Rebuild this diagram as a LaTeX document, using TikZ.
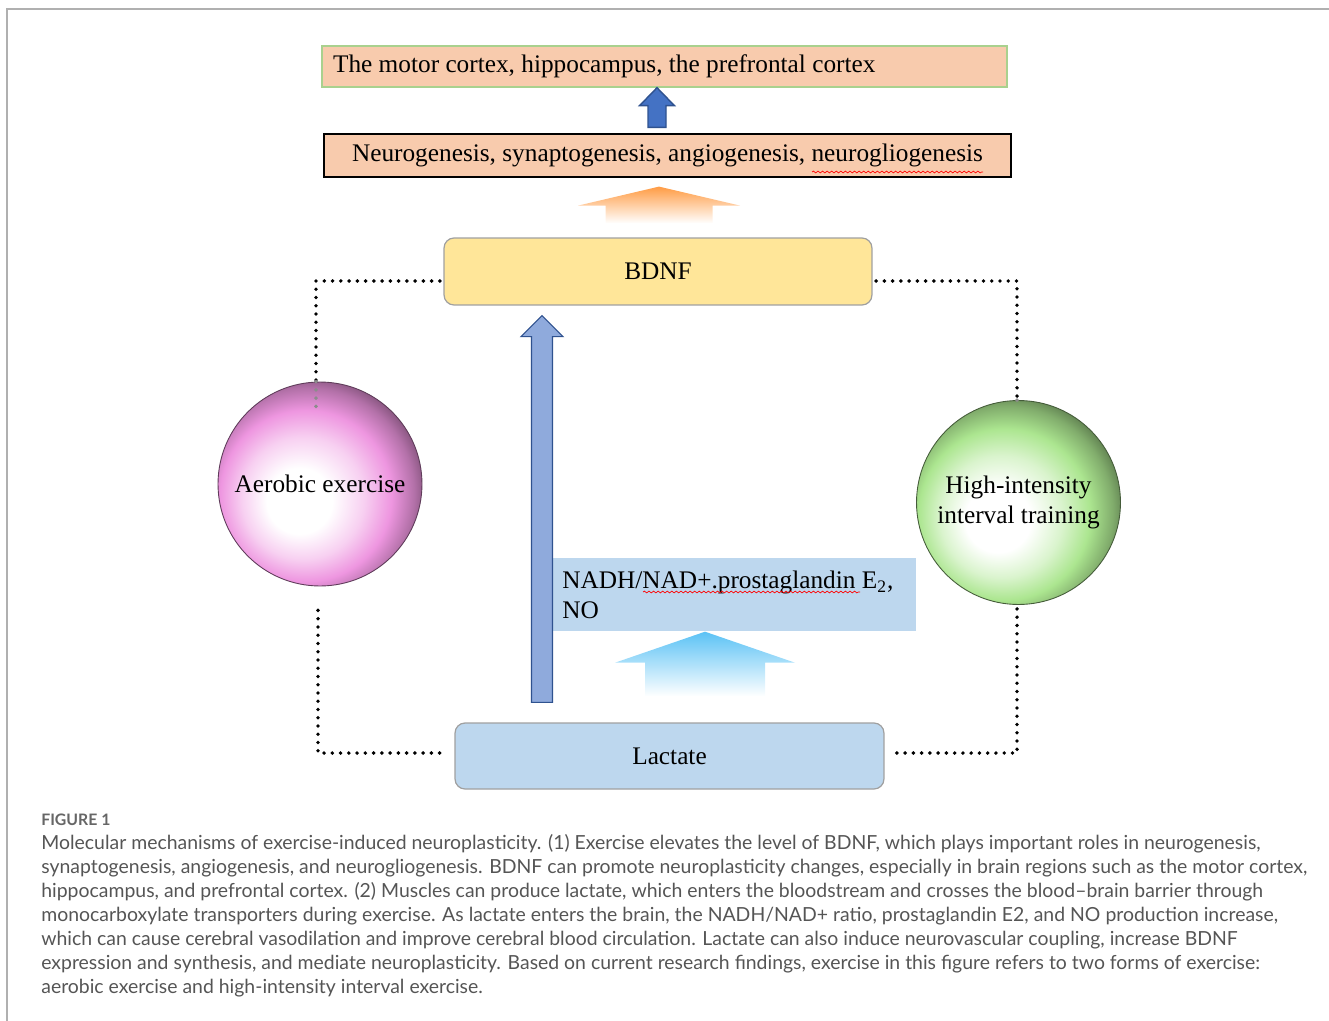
\documentclass[tikz,border=0pt]{standalone}
\usepackage{fontspec}
\setmainfont{Liberation Serif}
\newfontfamily\capfont{Lato}
\usetikzlibrary{positioning,calc,decorations.pathmorphing}

\definecolor{peach}{HTML}{F8CBAD}
\definecolor{boxgreen}{HTML}{A9D18E}
\definecolor{bdnfyellow}{HTML}{FFE699}
\definecolor{lactblue}{HTML}{BDD7EE}
\definecolor{boxgray}{HTML}{A0A0A0}
\definecolor{arrblue}{HTML}{4472C4}
\definecolor{arrblueline}{HTML}{2F528F}
\definecolor{bigblue}{HTML}{8FAADC}
\definecolor{arrorange}{HTML}{FF9C45}
\definecolor{arrcyan}{HTML}{5BC2F5}
\definecolor{ballpink}{HTML}{EE96E0}
\definecolor{ballgreen}{HTML}{ACE690}
\definecolor{capgray}{HTML}{555555}
\definecolor{framegray}{HTML}{B0B0B0}

\pgfdeclareradialshading{pinkball}{\pgfpoint{-6bp}{-5bp}}{color(0bp)=(white); color(8bp)=(white); color(15bp)=(ballpink!45!white); color(21bp)=(ballpink); color(26bp)=(ballpink!75!black); color(31bp)=(ballpink!40!black); color(50bp)=(ballpink!40!black)}
\pgfdeclareradialshading{greenball}{\pgfpoint{-6bp}{-5bp}}{color(0bp)=(white); color(8bp)=(white); color(15bp)=(ballgreen!45!white); color(21bp)=(ballgreen); color(26bp)=(ballgreen!75!black); color(31bp)=(ballgreen!40!black); color(50bp)=(ballgreen!40!black)}

% block arrow: style, base, tip, shaft half width, head half width, head length
\newcommand{\blockarrow}[6]{%
  \path[#1] ($(#2)+(-#4,0)$) -- ($(#2 |- #3)+(-#4,#6)$) -- ($(#2 |- #3)+(-#5,#6)$)
    -- (#2 |- #3) -- ($(#2 |- #3)+(#5,#6)$) -- ($(#2 |- #3)+(#4,#6)$) -- ($(#2)+(#4,0)$) -- cycle;}

\begin{document}
\begin{tikzpicture}
    [x=0.02cm,y=-0.02cm,
    txt/.style = {font=\fontsize{14.4}{17.3}\selectfont},
    cortexbox/.style = {txt,fill=peach,draw=boxgreen,line width=0.8pt,text width=13.26cm,align=flush left,inner xsep=0.22cm,inner ysep=0pt,minimum height=0.82cm},
    genesisbox/.style = {txt,fill=peach,draw=black,line width=0.7pt,minimum width=13.74cm,minimum height=0.86cm,inner sep=0pt},
    roundbox/.style = {txt,draw=boxgray,line width=0.7pt,rounded corners=0.2cm,minimum width=8.56cm,minimum height=1.34cm},
    nadhbox/.style = {txt,fill=lactblue,text width=6.88cm,align=flush left,inner xsep=0.2cm,minimum height=1.46cm},
    ball/.style = {txt,circle,minimum size=4.08cm,inner sep=0pt,align=center,line width=0.5pt},
    dotline/.style = {line width=2.2pt,dash pattern=on 0pt off 4.7pt,line cap=round},
    faintdots/.style = {dotline,black!45},
    bluearrow/.style = {fill=arrblue,draw=arrblueline,line width=0.8pt},
    bigarrow/.style = {fill=bigblue,draw=arrblueline,line width=0.6pt},
    orangearrow/.style = {top color=arrorange,bottom color=white},
    cyanarrow/.style = {top color=arrcyan,bottom color=white},
    spell/.style = {red,line width=0.4pt,decorate,decoration={snake,amplitude=0.5pt,segment length=2.6pt}}
    ]
\useasboundingbox (0,0) rectangle (1329,1021);
\draw[framegray,line width=1.1pt] (7,1021) -- (7,9) -- (1329,9);

% boxes
\node[cortexbox] (cortex) at (664.5,66.5) {The motor cortex, hippocampus, the prefrontal cortex};
\node[genesisbox] (genesis) at (667.5,155.5) {Neurogenesis, synaptogenesis, angiogenesis, neurogliogenesis};
\node[roundbox,fill=bdnfyellow] (bdnf) at (658,271.5) {BDNF};
\node[roundbox,fill=lactblue,minimum width=8.58cm,minimum height=1.32cm] (lactate) at (669.5,756) {Lactate};
\node[nadhbox,anchor=north west] (nadh) at (552,558) {NADH/NAD+.prostaglandin E\textsubscript{2},\\NO};

\draw[spell] (812,172) -- (983,172);
\draw[spell] (643,592) -- (860,592);

% dotted links
\node[ball,shading=pinkball,draw=ballpink!40!black] (aerobic) at (320,484) {Aerobic exercise};
\node[ball,shading=greenball,draw=ballgreen!40!black] (hiit) at (1018.5,502.5) {High-intensity\\interval training};
\coordinate (aertop) at ($(aerobic.north)+(-4,30)$);
\coordinate (aerbot) at ($(aerobic.south)+(-2,24)$);
\coordinate (hiittop) at ($(hiit.north)+(-1.5,7)$);
\coordinate (hiitbot) at ($(hiit.south)+(-1.5,4)$);
\draw[dotline] ([xshift=-2pt,yshift=-5.4pt]bdnf.west) -| (aerobic.north -| aertop);
\draw[faintdots] (aerobic.north -| aertop) -- (aertop);
\draw[dotline] ([xshift=2pt,yshift=-5.4pt]bdnf.east) -| (hiit.north -| hiittop);
\draw[faintdots] (hiit.north -| hiittop) -- (hiittop);
\draw[dotline] (aerbot) |- ([xshift=-5.7pt,yshift=1.7pt]lactate.west);
\draw[dotline] (hiitbot) |- ([xshift=3pt,yshift=1.7pt]lactate.east);

% block arrows
\coordinate (sbase) at ($(genesis.north)+(-10.5,-6)$);
\blockarrow{bluearrow}{sbase}{cortex.south}{9}{17.5}{18}
\coordinate (obase) at ($(bdnf.north)+(1,-14)$);
\coordinate (otip) at ($(genesis.south)+(0,9)$);
\blockarrow{orangearrow}{obase}{otip}{53.5}{81}{19}
\coordinate (bbase) at ($(lactate.north)+(-127.5,-20)$);
\coordinate (btip) at ($(bdnf.south)+(0,10)$);
\blockarrow{bigarrow}{bbase}{btip}{10.5}{21}{21}
\coordinate (cbase) at ($(lactate.north)+(35.5,-26)$);
\blockarrow{cyanarrow}{cbase}{nadh.south}{60}{90}{31}

% caption
\node[anchor=north west,inner sep=0pt,text=capgray!90,font=\capfont\bfseries\fontsize{9}{11}\selectfont] (figlabel) at (41,814) {FIGURE 1};
\node[anchor=north west,inner sep=0pt,text=capgray,align=flush left,font=\capfont\fontsize{11.05}{13.65}\selectfont] (caption) at (41,834) {Molecular mechanisms of exercise-induced neuroplasticity. (1) Exercise elevates the level of BDNF, which plays important roles in neurogenesis,\\
synaptogenesis, angiogenesis, and neurogliogenesis. BDNF can promote neuroplasticity changes, especially in brain regions such as the motor cortex,\\
hippocampus, and prefrontal cortex. (2) Muscles can produce lactate, which enters the bloodstream and crosses the blood–brain barrier through\\
monocarboxylate transporters during exercise. As lactate enters the brain, the NADH/NAD+ ratio, prostaglandin E2, and NO production increase,\\
which can cause cerebral vasodilation and improve cerebral blood circulation. Lactate can also induce neurovascular coupling, increase BDNF\\
expression and synthesis, and mediate neuroplasticity. Based on current research findings, exercise in this figure refers to two forms of exercise:\\
aerobic exercise and high-intensity interval exercise.};
\end{tikzpicture}
\end{document}
